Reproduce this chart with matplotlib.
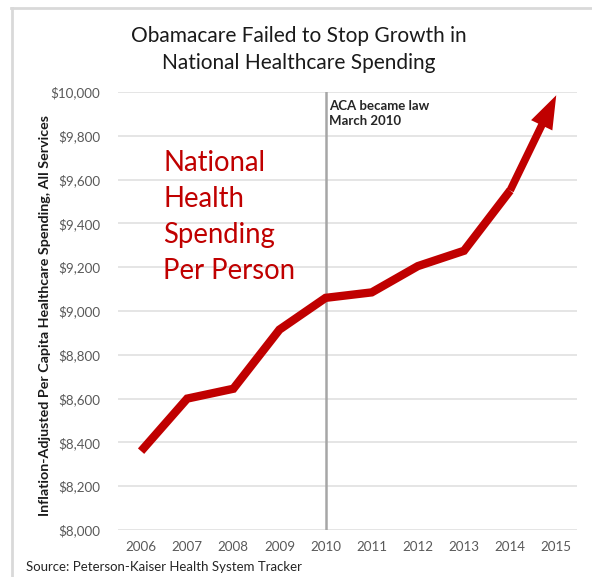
import matplotlib.pyplot as plt
from matplotlib.lines import Line2D

years = [2006, 2007, 2008, 2009, 2010, 2011, 2012, 2013, 2014]
spending = [8360, 8600, 8645, 8915, 9060, 9085, 9205, 9275, 9550]
arrow_year = 2015
arrow_value = 9985
yticks = [8000, 8200, 8400, 8600, 8800, 9000, 9200, 9400, 9600, 9800, 10000]
xticks = [2006, 2007, 2008, 2009, 2010, 2011, 2012, 2013, 2014, 2015]
label_lines = ["National", "Health", "Spending", "Per Person"]

W, H = 592, 577
red = "#C00000"
plt.rcParams['font.family'] = ['Lato', 'DejaVu Sans']

fig = plt.figure(figsize=(W / 100, H / 100), dpi=100)
ax = fig.add_axes([118 / W, 1 - 530 / H, (577 - 118) / W, (530 - 92) / H])

ax.set_ylim(8000, 10000)
ax.set_xlim(2005.5, 2015.45)
ax.set_yticks(yticks)
ax.set_yticklabels([f"${v:,}" for v in yticks])
ax.set_xticks(xticks)
ax.set_xticklabels([str(y) for y in xticks])
ax.tick_params(length=0, labelsize=9.6, labelcolor="#595959")
ax.tick_params(axis="y", pad=13)
ax.tick_params(axis="x", pad=8)
for s in ax.spines.values():
    s.set_visible(False)
ax.grid(axis="y", color="#e3e3e3", lw=1.3)
ax.set_axisbelow(True)

ax.axvline(2010, color="#a6a6a6", lw=1.8, zorder=2)

ax.plot(years, spending, color=red, lw=6, solid_joinstyle="miter",
        solid_capstyle="butt", zorder=3)
ax.annotate("", xy=(arrow_year, arrow_value), xytext=(years[-1], spending[-1]),
            arrowprops=dict(color=red, width=5.5, headwidth=17, headlength=24,
                            shrink=0, lw=0), zorder=3)

ax.text(2010.08, 9965, "ACA became law\nMarch 2010", fontsize=9.5,
        fontweight="bold", color="#262626", va="top", ha="left",
        linespacing=1.3)

for i, line in enumerate(label_lines):
    fig.text(163 / W, 1 - (171 + i * 36) / H, line, color=red, fontsize=19.8,
             ha="left", va="baseline")

fig.text(299 / W, 1 - 42 / H, "Obamacare Failed to Stop Growth in",
         fontsize=15, ha="center", va="baseline", color="#1a1a1a")
fig.text(299 / W, 1 - 69 / H, "National Healthcare Spending",
         fontsize=15, ha="center", va="baseline", color="#1a1a1a")

fig.text(45 / W, 1 - 315 / H,
         "Inflation-Adjusted Per Capita Healthcare Spending, All Services",
         rotation=90, fontsize=10.3, fontweight="bold", ha="center", va="center",
         color="#1a1a1a")

fig.text(26 / W, 1 - 571 / H, "Source: Peterson-Kaiser Health System Tracker",
         fontsize=9.5, ha="left", va="baseline", color="#262626")

# light frame on top and left
fig.add_artist(Line2D([11 / W, 1], [1 - 8 / H, 1 - 8 / H], color="#d9d9d9",
                      lw=2, transform=fig.transFigure))
fig.add_artist(Line2D([12 / W, 12 / W], [1 - 8 / H, 0], color="#d9d9d9",
                      lw=2, transform=fig.transFigure))

fig.savefig("out.png", dpi=100)
